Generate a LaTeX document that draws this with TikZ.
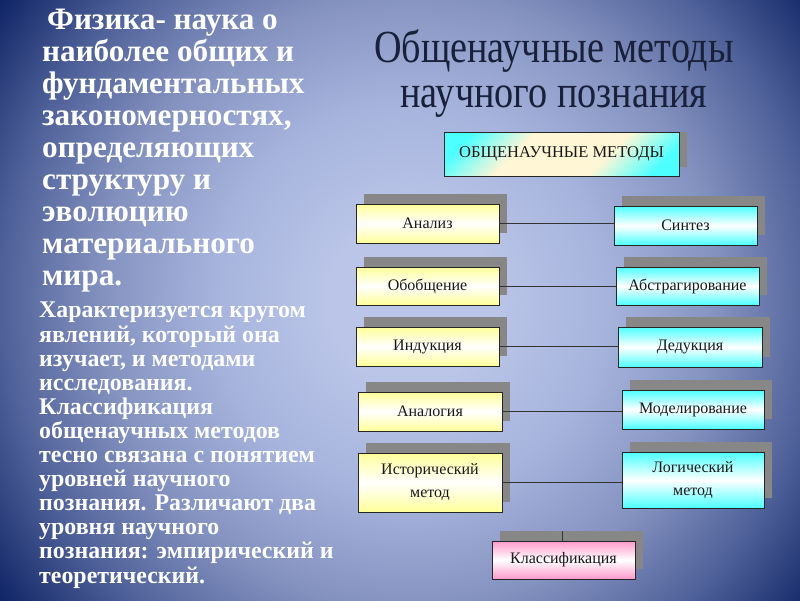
\documentclass[tikz,border=0pt]{standalone}
\usepackage{fontspec}
\setmainfont{Liberation Serif}[BoldFont={Liberation Serif Bold}]
\newfontfamily\titlefont{Liberation Serif}[FakeStretch=0.83]
\usetikzlibrary{calc}
\pgfdeclarelayer{back}
\pgfdeclarelayer{shad}
\pgfsetlayers{back,shad,main}

\definecolor{navy}{HTML}{0A1F62}
\definecolor{bgA}{HTML}{BAC5E8}
\definecolor{bgB}{HTML}{A6B3DC}
\definecolor{bgC}{HTML}{8492C0}
\definecolor{bgD}{HTML}{4E6098}
\definecolor{shadowc}{HTML}{878787}
\definecolor{yel}{HTML}{FFFF99}
\definecolor{cya}{HTML}{4DFFFF}
\definecolor{pnk}{HTML}{FF99CC}
\definecolor{cream}{HTML}{FFF6D6}
\definecolor{titlec}{HTML}{18203A}

\pgfdeclareradialshading{bgshade}{\pgfpoint{0bp}{0bp}}{%
  color(0bp)=(bgA); color(5bp)=(bgA); color(12bp)=(bgB);
  color(18.75bp)=(bgC); color(25bp)=(bgD); color(31.5bp)=(navy); color(50bp)=(navy)}
\pgfdeclareverticalshading{topshade}{100bp}{%
  color(0bp)=(cya); color(22bp)=(cya); color(38bp)=(cream);
  color(62bp)=(cream); color(78bp)=(cya); color(100bp)=(cya)}

\tikzset{
  mbox/.style={draw=black!85, line width=0.8pt, inner sep=0pt, align=center,
    text=black!90, font=\fontsize{16}{23}\selectfont},
  ybox/.style={mbox, top color=yel, bottom color=yel, middle color=white},
  cbox/.style={mbox, top color=cya, bottom color=cya, middle color=white},
  pbox/.style={mbox, top color=pnk, bottom color=pnk, middle color=white},
  conn/.style={draw=black!80, line width=0.7pt},
  ptext/.style={text=white, align=left, inner sep=0pt, anchor=base west}
}

\begin{document}
\begin{tikzpicture}[x=1pt, y=-1pt]
\useasboundingbox (0,0) rectangle (800,600);
\begin{pgfonlayer}{back}
  \begin{scope}
    \clip (0,0) rectangle (800,600);
    \shade[shading=bgshade] (0,-110) rectangle (820,710);
  \end{scope}
\end{pgfonlayer}

% title
\node[titlec, align=center, anchor=base, inner sep=0pt,
  font=\titlefont\fontsize{46}{45}\selectfont] (title) at (554,107)
  {Общенаучные методы\\научного познания};

% left text
\node[ptext, font=\bfseries\fontsize{31.2}{31.9}\selectfont] (p1) at (42,285)
  {\hspace*{5pt}Физика- наука о\\наиболее общих и\\фундаментальных\\закономерностях,\\определяющих\\структуру и\\эволюцию\\материального\\мира.};
\node[ptext, font=\bfseries\fontsize{23.9}{24.1}\selectfont] (p2) at (39,583)
  {Характеризуется кругом\\явлений, который она\\изучает, и методами\\исследования.\\Классификация\\общенаучных методов\\тесно связана с понятием\\уровней научного\\познания. Различают два\\уровня научного\\познания: эмпирический и\\теоретический.};

% boxes
\node[mbox, minimum width=235pt, minimum height=44pt, shading=topshade,
  shading angle=45, font=\fontsize{16.5}{20}\selectfont] (top) at (561.5,154)
  {ОБЩЕНАУЧНЫЕ МЕТОДЫ};

\node[ybox, minimum width=143pt, minimum height=39pt] (an) at (427.5,223.5) {Анализ};
\node[cbox, minimum width=143pt, minimum height=39pt] (sy) at (685.5,225.5) {Синтез};
\node[ybox, minimum width=143pt, minimum height=38pt] (ob) at (427.5,286) {Обобщение};
\node[cbox, minimum width=143pt, minimum height=38pt] (ab) at (687.5,286) {Абстрагирование};
\node[ybox, minimum width=143pt, minimum height=39pt] (in) at (427.5,346.5) {Индукция};
\node[cbox, minimum width=144pt, minimum height=40pt] (de) at (690,347) {Дедукция};
\node[ybox, minimum width=144pt, minimum height=39pt] (ag) at (430,411.5) {Аналогия};
\node[cbox, minimum width=142pt, minimum height=39pt] (mo) at (693,409.5) {Моделирование};
\node[ybox, minimum width=144pt, minimum height=59pt] (hi) at (430,482.5) {Исторический\\метод};
\node[cbox, minimum width=142pt, minimum height=56pt] (lo) at (693,480) {Логический\\метод};
\node[pbox, minimum width=143pt, minimum height=38pt] (kl) at (563.5,560) {Классификация};

% shadows
\begin{pgfonlayer}{shad}
  \foreach \n in {an,sy,ob,ab,in,de,ag,mo,hi,lo,kl}{
    \fill[shadowc] ($(\n.south west)+(8,-10)$) rectangle ($(\n.north east)+(8,-10)$);
  }
  \fill[shadowc] ($(top.north west)+(8,0)$) rectangle ($(top.south east)+(8,-9)$);
\end{pgfonlayer}

% connectors
\draw[conn] (an.east) -- (an.east -| sy.west);
\draw[conn] (ob.east) -- (ob.east -| ab.west);
\draw[conn] (in.east) -- (in.east -| de.west);
\draw[conn] (ag.east) -- (ag.east -| mo.west);
\draw[conn] (hi.east) -- (hi.east -| lo.west);
\coordinate (klt) at ($(kl.north)+(-1.5,-10)$);
\draw[conn] (kl.north -| klt) -- (klt);
\end{tikzpicture}
\end{document}
